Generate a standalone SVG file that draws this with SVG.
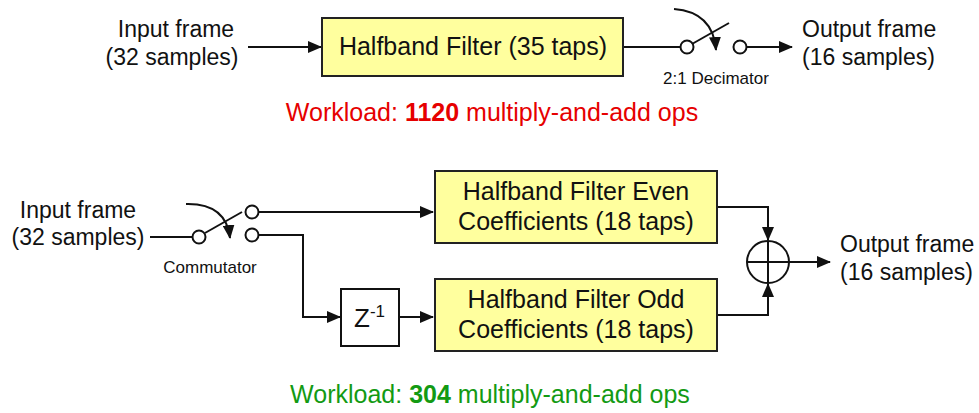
<svg xmlns="http://www.w3.org/2000/svg" width="979" height="413" viewBox="0 0 979 413">
<defs>
<style>
text{font-family:"Liberation Sans",Arial,sans-serif;fill:#111}
.t{font-size:23px}
.b{font-size:25px}
.s{font-size:17px}
.box{fill:#ffff9e;stroke:#222;stroke-width:2}
.wbox{fill:#fff;stroke:#111;stroke-width:2}
.ln{fill:none;stroke:#111;stroke-width:2}
.io{fill:#fff;stroke:#111;stroke-width:2}
</style>
<marker id="ah" markerUnits="userSpaceOnUse" markerWidth="14" markerHeight="12" refX="13" refY="6" orient="auto">
<path d="M0,0 L14,6 L0,12 Z" fill="#111"/>
</marker>
</defs>
<rect width="979" height="413" fill="#fff"/>

<g id="connectors">
<line class="ln" x1="248" y1="47" x2="321" y2="47" marker-end="url(#ah)"/>
<line class="ln" x1="623" y1="47" x2="681" y2="47"/>
<line class="ln" x1="746" y1="47" x2="792" y2="47" marker-end="url(#ah)"/>
<line class="ln" x1="150" y1="237" x2="193" y2="237"/>
<polyline class="ln" points="258,212 433,212" marker-end="url(#ah)"/>
<polyline class="ln" points="258,235 303,235 303,317 340,317" marker-end="url(#ah)"/>
<line class="ln" x1="399" y1="317" x2="433" y2="317" marker-end="url(#ah)"/>
<polyline class="ln" points="717,207 768,207 768,240" marker-end="url(#ah)"/>
<polyline class="ln" points="717,315 768,315 768,284" marker-end="url(#ah)"/>
<line class="ln" x1="789" y1="262" x2="830" y2="262" marker-end="url(#ah)"/>
</g>

<g id="input-top">
<text class="t" x="176" y="37" text-anchor="middle">Input frame</text>
<text class="t" x="172" y="65" text-anchor="middle">(32 samples)</text>
</g>

<g id="halfband-filter">
<rect class="box" x="322" y="18" width="301" height="58"/>
<text class="b" x="473" y="55" text-anchor="middle">Halfband Filter (35 taps)</text>
</g>

<g id="decimator">
<circle class="io" cx="687" cy="47" r="6.5"/>
<circle class="io" cx="740" cy="47" r="6.5"/>
<line class="ln" x1="692" y1="44" x2="729" y2="23"/>
<path class="ln" d="M674,9 Q713,12 716,50" marker-end="url(#ah)"/>
<text class="s" x="716" y="84" text-anchor="middle">2:1 Decimator</text>
</g>

<g id="output-top">
<text class="t" x="802" y="37">Output frame</text>
<text class="t" x="802" y="65">(16 samples)</text>
</g>

<g id="workload-top">
<text x="492" y="121" text-anchor="middle" style="font-size:25px;fill:#e60000">Workload: <tspan font-weight="bold">1120</tspan> multiply-and-add ops</text>
</g>

<g id="input-bottom">
<text class="t" x="78" y="218" text-anchor="middle">Input frame</text>
<text class="t" x="78" y="245" text-anchor="middle">(32 samples)</text>
</g>

<g id="commutator">
<circle class="io" cx="199" cy="237" r="6.5"/>
<circle class="io" cx="252" cy="212" r="6.5"/>
<circle class="io" cx="252" cy="235" r="6.5"/>
<line class="ln" x1="205" y1="233" x2="242" y2="212"/>
<path class="ln" d="M186,204 Q226,203 230,238" marker-end="url(#ah)"/>
<text class="s" x="210" y="273" text-anchor="middle">Commutator</text>
</g>

<g id="even-filter">
<rect class="box" x="435" y="171" width="282" height="72"/>
<text class="b" x="576" y="200" text-anchor="middle">Halfband Filter Even</text>
<text class="b" x="576" y="230" text-anchor="middle">Coefficients (18 taps)</text>
</g>

<g id="delay">
<rect class="wbox" x="341" y="289" width="58" height="57"/>
<text x="354" y="327" style="font-size:26px">Z<tspan dy="-10" style="font-size:17px">-1</tspan></text>
</g>

<g id="odd-filter">
<rect class="box" x="435" y="279" width="282" height="72"/>
<text class="b" x="576" y="308" text-anchor="middle">Halfband Filter Odd</text>
<text class="b" x="576" y="338" text-anchor="middle">Coefficients (18 taps)</text>
</g>

<g id="adder">
<circle class="io" cx="768" cy="262" r="21"/>
<line class="ln" x1="747" y1="262" x2="789" y2="262"/>
<line class="ln" x1="768" y1="241" x2="768" y2="283"/>
</g>

<g id="output-bottom">
<text class="t" x="840" y="252">Output frame</text>
<text class="t" x="840" y="280">(16 samples)</text>
</g>

<g id="workload-bottom">
<text x="490" y="403" text-anchor="middle" style="font-size:25px;fill:#139a13">Workload: <tspan font-weight="bold">304</tspan> multiply-and-add ops</text>
</g>
</svg>
